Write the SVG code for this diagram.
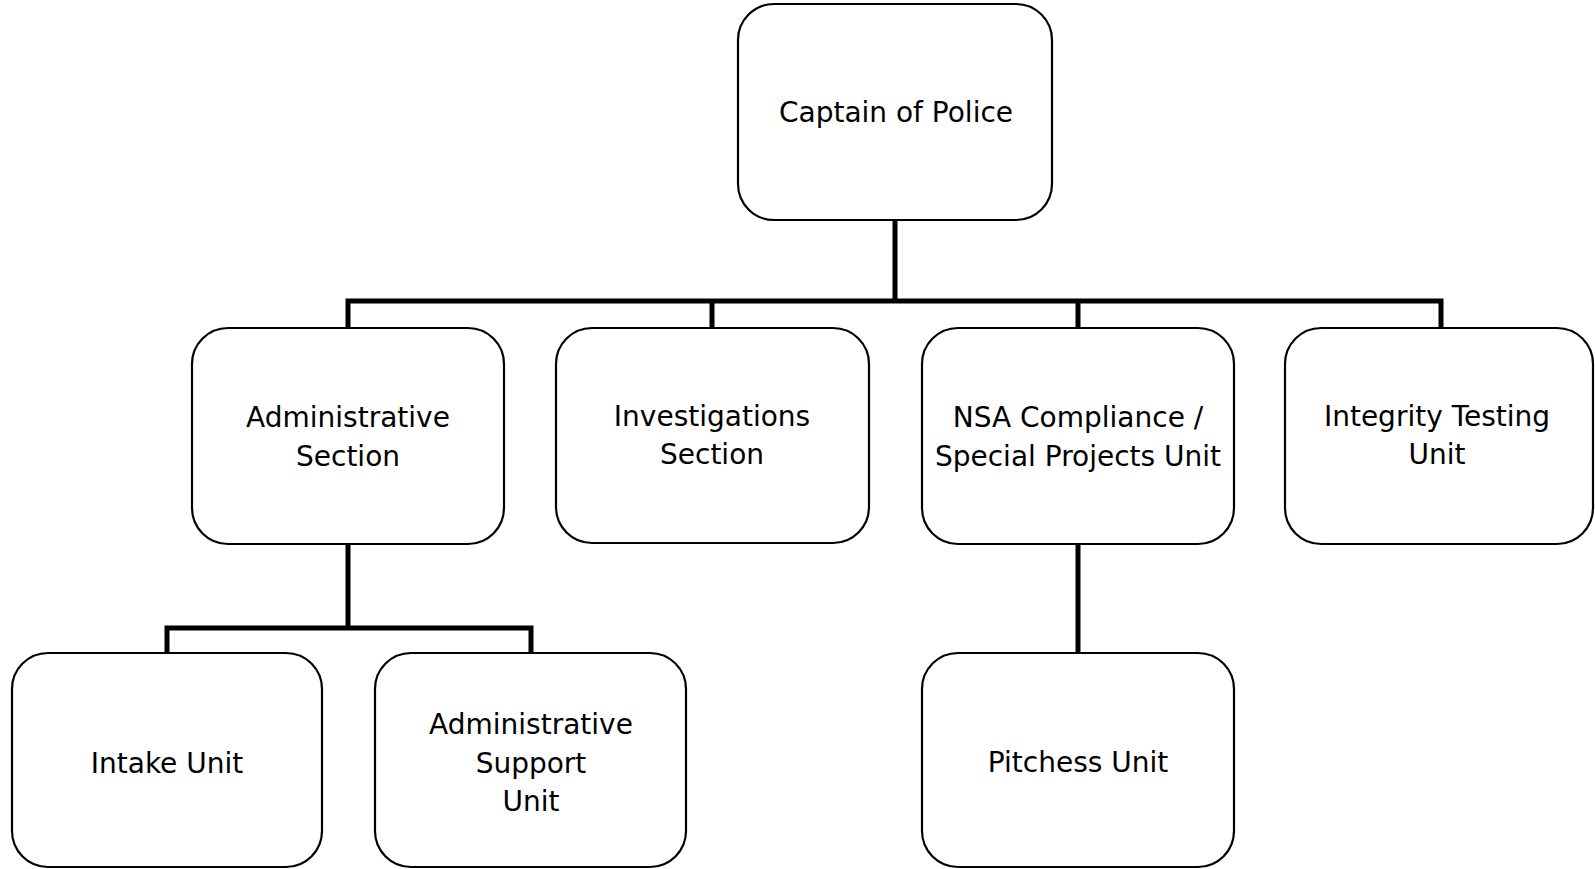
<svg xmlns="http://www.w3.org/2000/svg" width="1595" height="869" viewBox="0 0 1595 869">
<style>
.box{fill:#fff;stroke:#000;stroke-width:2.2}
.lbl{font-family:"DejaVu Sans",Verdana,sans-serif;font-size:28px;fill:#000;text-anchor:middle}
.conn{fill:none;stroke:#000;stroke-width:5;stroke-linecap:square;stroke-linejoin:miter}
</style>
<rect width="1595" height="869" fill="#fff"/>
<g id="connectors">
<path class="conn" d="M895 220 V301 M348 327 V301 H1441 V327 M712 301 V327 M1078 301 V327"/>
<path class="conn" d="M348 544 V628 M167 653 V628 H531 V653"/>
<path class="conn" d="M1078 544 V653"/>
</g>
<g id="captain"><rect class="box" x="738" y="4" width="314" height="216" rx="36"/><text class="lbl" x="896" y="122">Captain of Police</text></g>
<g id="admin-section"><rect class="box" x="192" y="328" width="312" height="216" rx="36"/><text class="lbl" x="348" y="427">Administrative</text><text class="lbl" x="348" y="466">Section</text></g>
<g id="investigations"><rect class="box" x="556" y="328" width="313" height="215" rx="36"/><text class="lbl" x="712" y="426">Investigations</text><text class="lbl" x="712" y="464">Section</text></g>
<g id="nsa"><rect class="box" x="922" y="328" width="312" height="216" rx="36"/><text class="lbl" x="1078" y="427">NSA Compliance /</text><text class="lbl" x="1078" y="466">Special Projects Unit</text></g>
<g id="integrity"><rect class="box" x="1285" y="328" width="308" height="216" rx="36"/><text class="lbl" x="1437" y="426">Integrity Testing</text><text class="lbl" x="1437" y="464">Unit</text></g>
<g id="intake"><rect class="box" x="12" y="653" width="310" height="214" rx="36"/><text class="lbl" x="167" y="773">Intake Unit</text></g>
<g id="admin-support"><rect class="box" x="375" y="653" width="311" height="214" rx="36"/><text class="lbl" x="531" y="734">Administrative</text><text class="lbl" x="531" y="773">Support</text><text class="lbl" x="531" y="811">Unit</text></g>
<g id="pitchess"><rect class="box" x="922" y="653" width="312" height="214" rx="36"/><text class="lbl" x="1078" y="772">Pitchess Unit</text></g>
</svg>
